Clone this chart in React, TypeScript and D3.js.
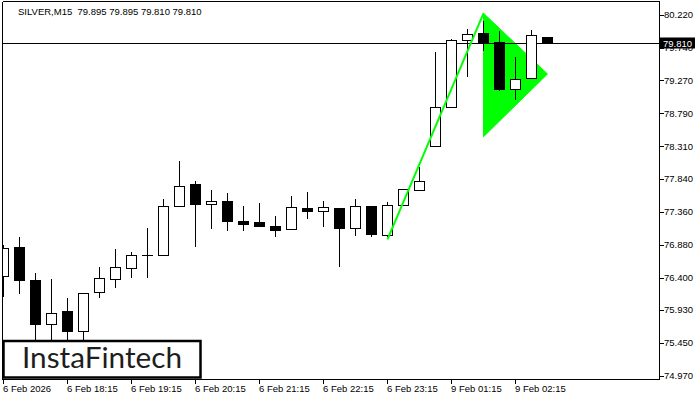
import React from 'react';
import * as d3 from 'd3';

const symbolName = 'SILVER,M15';
const lastQuote = ['79.895', '79.895', '79.810', '79.810'];

const opens = [76.410, 76.842, 76.366, 75.722, 75.901, 75.620, 76.187, 76.376, 76.536, 76.720, 76.725, 77.432, 77.748, 77.467, 77.515, 77.210, 77.199, 77.137, 77.098, 77.413, 77.359, 77.413, 77.118, 77.442, 77.010, 77.447, 77.671, 78.305, 78.878, 79.852, 79.954, 79.823, 79.140, 79.297, 79.895];
const highs = [76.875, 76.996, 76.468, 76.381, 76.100, 76.177, 76.551, 76.817, 76.773, 77.118, 77.544, 78.097, 77.806, 77.675, 77.636, 77.442, 77.490, 77.297, 77.592, 77.646, 77.515, 77.413, 77.544, 77.442, 77.500, 77.690, 78.014, 79.686, 79.875, 80.016, 80.133, 79.987, 79.605, 80.002, 79.895];
const lows = [76.119, 76.163, 75.421, 75.421, 75.421, 75.465, 76.100, 76.245, 76.391, 76.391, 76.722, 77.432, 76.850, 77.103, 77.083, 77.083, 77.137, 76.987, 77.098, 77.253, 77.141, 76.560, 77.010, 76.996, 76.990, 77.447, 77.671, 78.305, 78.878, 79.323, 79.701, 79.115, 78.984, 79.282, 79.810];
const closes = [76.831, 76.356, 75.712, 75.882, 75.614, 76.173, 76.381, 76.551, 76.720, 76.722, 77.442, 77.733, 77.467, 77.515, 77.214, 77.170, 77.141, 77.083, 77.423, 77.359, 77.423, 77.112, 77.442, 77.025, 77.452, 77.675, 77.796, 78.878, 79.852, 79.939, 79.806, 79.134, 79.286, 79.922, 79.810];

const priceTicks = [80.22, 79.74, 79.27, 78.79, 78.31, 77.84, 77.36, 76.88, 76.4, 75.93, 75.45, 74.97];
const timeLabels = ['6 Feb 2026', '6 Feb 18:15', '6 Feb 19:15', '6 Feb 20:15', '6 Feb 21:15', '6 Feb 22:15', '6 Feb 23:15', '9 Feb 01:15', '9 Feb 02:15'];
const timeLabelIdx = [0, 4, 8, 12, 16, 20, 24, 28, 32];

const poleIdx = [24, 30];
const polePrice = [76.958, 80.245];
const pennantIdx = [30, 30, 34];
const pennantPrice = [80.245, 78.45, 79.362];
const lastPrice = 79.81;

export default function App() {
  const W = 700;
  const H = 400;
  const left = 2.5;
  const right = 659.5;
  const top = 1.5;
  const bottom = 379.5;
  const font = '"Liberation Sans", Arial, sans-serif';

  const x = d3.scaleLinear().domain([0, 1]).range([3.5, 19.5]);
  const y = d3.scaleLinear().domain([74.97, 80.22]).range([376, 15]);

  const poleLine = d3.line<number>()
    .x((_, i) => x(poleIdx[i]))
    .y((p) => y(p));
  const pennant = d3.line<number>()
    .x((_, i) => x(pennantIdx[i]))
    .y((p) => y(p));

  const ly = Math.round(y(lastPrice)) + 0.5;

  return (
    <svg width={W} height={H} style={{ position: 'absolute', left: 0, top: 0, display: 'block', background: '#fff' }}>
      <defs>
        <clipPath id="plot">
          <rect x={left} y={top} width={right - left} height={bottom - top} />
        </clipPath>
      </defs>
      <rect x={0} y={0} width={W} height={H} fill="#fff" />
      <g clipPath="url(#plot)">
        <path d={pennant(pennantPrice) + 'Z'} fill="#00ff00" stroke="#00ff00" strokeWidth={1} />
        <line x1={left} x2={right} y1={ly} y2={ly} stroke="#000" strokeWidth={1} shapeRendering="crispEdges" />
        {opens.map((o, i) => {
          const c = closes[i];
          const cx = x(i);
          const bull = c >= o;
          const yTop = y(Math.max(o, c));
          const yBot = y(Math.min(o, c));
          return (
            <g key={i} shapeRendering="crispEdges">
              <line x1={cx} x2={cx} y1={y(highs[i])} y2={y(lows[i])} stroke="#000" strokeWidth={1} />
              <rect x={cx - 5} y={yTop} width={10} height={Math.max(0.01, yBot - yTop)} fill={bull ? '#fff' : '#000'} stroke="#000" strokeWidth={1} />
            </g>
          );
        })}
        <path d={poleLine(polePrice) || ''} fill="none" stroke="#00ff00" strokeWidth={2} />
      </g>
      {/* frame */}
      <line x1={left} x2={right} y1={top} y2={top} stroke="#000" shapeRendering="crispEdges" />
      <line x1={left} x2={left} y1={top} y2={bottom} stroke="#000" shapeRendering="crispEdges" />
      <line x1={right} x2={right} y1={top} y2={bottom} stroke="#000" shapeRendering="crispEdges" />
      <line x1={left} x2={right} y1={bottom} y2={bottom} stroke="#000" shapeRendering="crispEdges" />

      {/* price axis */}
      {priceTicks.map((p) => (
        <g key={p}>
          <line x1={right} x2={right + 4} y1={Math.round(y(p)) + 0.5} y2={Math.round(y(p)) + 0.5} stroke="#000" shapeRendering="crispEdges" />
          <text x={664} y={y(p)} dy="0.35em" fontFamily={font} fontSize={9.5} fill="#000">{p.toFixed(3)}</text>
        </g>
      ))}
      <rect x={660} y={ly - 6} width={35} height={11} fill="#000" />
      <text x={663} y={ly} dy="0.35em" fontFamily={font} fontSize={9.5} fill="#fff">{lastPrice.toFixed(3)}</text>

      {/* time axis */}
      {timeLabels.map((t, k) => (
        <g key={t}>
          <line x1={x(timeLabelIdx[k])} x2={x(timeLabelIdx[k])} y1={bottom} y2={bottom + 4} stroke="#000" shapeRendering="crispEdges" />
          <text x={x(timeLabelIdx[k]) - 0.5} y={392} fontFamily={font} fontSize={9.5} fill="#000">{t}</text>
        </g>
      ))}

      {/* title */}
      <text x={18} y={15} fontFamily={font} fontSize={9.5} fill="#000" style={{ whiteSpace: 'pre' }}>
        {symbolName + '  ' + lastQuote.join(' ')}
      </text>

      {/* logo */}
      <rect x={3.5} y={341} width={197} height={36.5} fill="#fff" stroke="#000" strokeWidth={2.5} />
      <text x={22} y={368} fontFamily="Lato, 'Open Sans', sans-serif" fontSize={28} fill="#1e1e1e" textLength={160} lengthAdjust="spacingAndGlyphs">InstaFintech</text>
    </svg>
  );
}
